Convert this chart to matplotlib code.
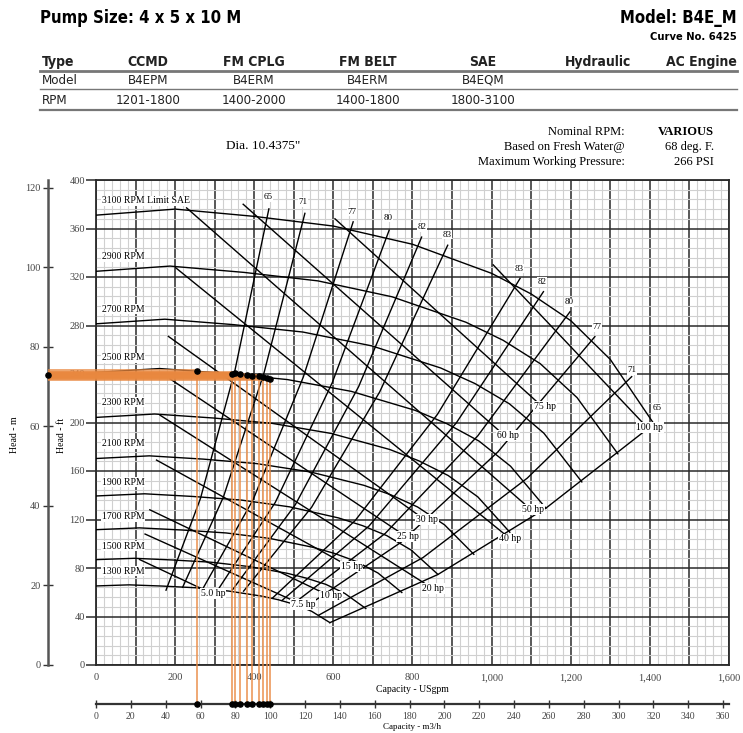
import numpy as np
import matplotlib.pyplot as plt
from matplotlib.lines import Line2D
from matplotlib.ticker import FuncFormatter

W, H = 743, 733
SERIF = ['Liberation Serif', 'DejaVu Serif']
NARROW = ['DejaVu Sans', 'Liberation Sans']

# head-capacity curves, USgpm / ft
q_3100 = [0, 200, 400, 600, 800, 1000, 1100, 1200, 1300, 1410]
h_3100 = [371, 376, 370, 362, 347, 323, 306, 284, 252, 199]
q_2900 = [0, 187, 374, 561, 748, 935, 1029, 1123, 1216, 1319]
h_2900 = [324.7, 329.0, 323.8, 316.8, 303.7, 282.7, 267.8, 248.5, 220.5, 174.2]
q_2700 = [0, 174, 348, 523, 697, 871, 958, 1045, 1132, 1228]
h_2700 = [281.4, 285.2, 280.7, 274.6, 263.2, 245.0, 232.1, 215.4, 191.2, 151.0]
q_2500 = [0, 161, 323, 484, 645, 806, 887, 968, 1048, 1137]
h_2500 = [241.3, 244.5, 240.6, 235.4, 225.7, 210.1, 199.0, 184.7, 163.9, 129.4]
q_2300 = [0, 148, 297, 445, 594, 742, 816, 890, 965, 1046]
h_2300 = [204.2, 207.0, 203.7, 199.3, 191.0, 177.8, 168.4, 156.3, 138.7, 109.5]
q_2100 = [0, 135, 271, 406, 542, 677, 745, 813, 881, 955]
h_2100 = [170.3, 172.5, 169.8, 166.1, 159.2, 148.2, 140.4, 130.3, 115.6, 91.3]
q_1900 = [0, 123, 245, 368, 490, 613, 674, 735, 797, 864]
h_1900 = [139.4, 141.2, 139.0, 136.0, 130.4, 121.3, 114.9, 106.7, 94.7, 74.8]
q_1700 = [0, 110, 219, 329, 439, 548, 603, 658, 713, 773]
h_1700 = [111.6, 113.1, 111.3, 108.9, 104.4, 97.1, 92.0, 85.4, 75.8, 59.8]
q_1500 = [0, 97, 194, 290, 387, 484, 532, 581, 629, 682]
h_1500 = [86.9, 88.0, 86.6, 84.8, 81.2, 75.6, 71.6, 66.5, 59.0, 46.6]
q_1300 = [0, 84, 168, 252, 335, 419, 461, 503, 545, 591]
h_1300 = [65.2, 66.1, 65.1, 63.7, 61.0, 56.8, 53.8, 49.9, 44.3, 35.0]

rpm_labels = ['3100 RPM Limit SAE', '2900 RPM', '2700 RPM', '2500 RPM', '2300 RPM',
              '2100 RPM', '1900 RPM', '1700 RPM', '1500 RPM', '1300 RPM']
rpm_label_h = [382.7, 336.5, 293.6, 253.2, 216.9, 182.3, 150.9, 122.1, 98.1, 77.5]

# efficiency lines (%), left and right branches
eff_labels = ['65', '71', '77', '80', '82', '83', '83', '82', '80', '77', '71', '65']
eff_q = [[177, 264, 351, 437], [219, 322, 425, 528], [271, 397, 524, 650],
         [309, 453, 597, 741], [345, 504, 664, 823], [373, 545, 717, 889],
         [446, 655, 863, 1072], [470, 690, 911, 1131], [498, 731, 965, 1198],
         [526, 771, 1016, 1261], [563, 827, 1090, 1354], [591, 864, 1137, 1410]]
eff_h = [[61.7, 137.3, 242.7, 376.2], [64.1, 138.5, 241.3, 372.5], [63.5, 136.3, 237.5, 365.5],
         [62.4, 134.0, 232.7, 358.6], [62.0, 132.3, 229.7, 352.9], [60.9, 130.1, 225.2, 346.2],
         [55.2, 119.1, 206.7, 318.9], [53.2, 114.6, 199.8, 307.9], [50.3, 108.5, 189.0, 291.3],
         [47.1, 101.2, 175.8, 270.8], [41.1, 88.7, 154.1, 237.8], [34.9, 74.6, 129.3, 198.8]]
eff_label_q = [435, 523, 647, 738, 824, 887, 1069, 1127, 1196, 1266, 1355, 1418]
eff_label_h = [386, 382, 374, 369, 361, 355, 327, 316, 299, 279, 243, 212]

# horsepower lines (start on the upper curves, end at their labels)
hp_labels = ['100 hp', '75 hp', '60 hp', '50 hp', '40 hp', '30 hp',
             '25 hp', '20 hp', '15 hp', '10 hp', '7.5 hp', '5.0 hp']
hp_q0 = [1004, 604, 372, 229, 200, 183, 187, 162, 153, 136, 124, 110]
hp_h0 = [330, 368, 380, 377, 328, 271, 236, 206, 169, 128, 108, 87]
hp_q1 = [1390, 1125, 1030, 1100, 1040, 826, 779, 842, 636, 584, 513, 286]
hp_h1 = [197, 214, 190, 128, 106, 121, 107, 65, 82, 58, 51, 60]
hp_label_q = [1400, 1135, 1041, 1105, 1047, 836, 789, 852, 646, 594, 523, 296]
hp_label_h = [196, 213, 189, 128, 104, 120, 106, 63, 81, 57, 50, 59]

# operating points picked on the chart
op_flow = [255, 343, 351, 364, 381, 395, 412, 421, 431, 441]
op_head = [242.5, 240.4, 240.9, 239.8, 239.0, 238.7, 238.1, 237.5, 236.7, 236.2]

GPM_PER_M3H = 4.402868
FT_PER_M = 3.28084

fig = plt.figure(figsize=(W / 100, H / 100), dpi=100)
fig.patch.set_facecolor('white')


def fx(px):
    return px / W


def fy(py):
    return 1 - py / H


# ---- header ----
fig.text(fx(40), fy(18), 'Pump Size: 4 x 5 x 10 M', family=NARROW, weight='bold',
         stretch='condensed', fontsize=12, va='center', ha='left')
fig.text(fx(737), fy(18), 'Model: B4E_M', family=NARROW, weight='bold',
         stretch='condensed', fontsize=12, va='center', ha='right')
fig.text(fx(737), fy(37), 'Curve No. 6425', family=NARROW, weight='bold',
         stretch='condensed', fontsize=8, va='center', ha='right')

col_x = [42, 148, 254, 368, 483, 598, 737]
col_ha = ['left', 'center', 'center', 'center', 'center', 'center', 'right']
table_rows = [['Type', 'CCMD', 'FM CPLG', 'FM BELT', 'SAE', 'Hydraulic', 'AC Engine'],
              ['Model', 'B4EPM', 'B4ERM', 'B4ERM', 'B4EQM', '', ''],
              ['RPM', '1201-1800', '1400-2000', '1400-1800', '1800-3100', '', '']]
row_y = [62, 80, 100]
for r, (row, yy) in enumerate(zip(table_rows, row_y)):
    for txt, xx, ha in zip(row, col_x, col_ha):
        fig.text(fx(xx), fy(yy), txt, family=NARROW, stretch='condensed',
                 fontsize=10 if r == 0 else 9.5,
                 weight='bold' if r == 0 else 'normal', ha=ha, va='center', color='#222')
for yy, lw in [(71, 2.0), (89, 1.0), (110, 1.6)]:
    fig.add_artist(Line2D([fx(40), fx(737)], [fy(yy), fy(yy)], color='#777', lw=lw))

fig.text(fx(263), fy(146), 'Dia. 10.4375"', family=SERIF, fontsize=9.5, ha='center', va='center')
for yy, left, right, bold in [(132, 'Nominal RPM:', 'VARIOUS', True),
                              (147, 'Based on Fresh Water@', '68 deg. F.', False),
                              (162, 'Maximum Working Pressure:', '266 PSI', False)]:
    fig.text(fx(625), fy(yy), left, family=SERIF, fontsize=9, ha='right', va='center')
    fig.text(fx(714), fy(yy), right, family=SERIF, fontsize=9, ha='right', va='center',
             weight='bold' if bold else 'normal')

# ---- chart ----
ax = fig.add_axes([fx(96), fy(665), 633 / W, 485 / H])
ax.set_xlim(0, 1600)
ax.set_ylim(0, 400)
ax.set_xticks(np.arange(0, 1601, 100))
ax.set_xticks(np.arange(0, 1601, 20), minor=True)
ax.set_yticks(np.arange(0, 401, 40))
ax.set_yticks(np.arange(0, 401, 8), minor=True)
ax.grid(which='minor', color='#d0d0d0', lw=0.8)
ax.grid(which='major', color='#2a2a2a', lw=1.1)
ax.set_axisbelow(True)
ax.xaxis.set_major_formatter(FuncFormatter(lambda v, _: f'{int(v):,}' if v % 200 == 0 else ''))
ax.tick_params(axis='x', which='both', length=0, pad=6, labelsize=7.5, labelcolor='#444')
ax.tick_params(axis='y', which='major', length=7, width=1.1, color='#2a2a2a',
               labelsize=7.5, labelcolor='#444', pad=1)
ax.tick_params(axis='y', which='minor', length=0)
for lab in ax.get_xticklabels() + ax.get_yticklabels():
    lab.set_family(SERIF)
for sp in ax.spines.values():
    sp.set_color('#2a2a2a')
    sp.set_linewidth(1.3)

curves_q = [q_3100, q_2900, q_2700, q_2500, q_2300, q_2100, q_1900, q_1700, q_1500, q_1300]
curves_h = [h_3100, h_2900, h_2700, h_2500, h_2300, h_2100, h_1900, h_1700, h_1500, h_1300]
for q, h in zip(curves_q, curves_h):
    ax.plot(q, h, color='black', lw=1.0, zorder=3)
for q, h in zip(eff_q, eff_h):
    ax.plot(q, h, color='black', lw=1.0, zorder=3)
for q0, h0, q1, h1 in zip(hp_q0, hp_h0, hp_q1, hp_h1):
    ax.plot([q0, q1], [h0, h1], color='black', lw=1.0, zorder=3)

box = dict(facecolor='white', edgecolor='none', pad=0.6)
for lab, hh in zip(rpm_labels, rpm_label_h):
    ax.text(14, hh, lab, family=SERIF, fontsize=7, ha='left', va='center', bbox=box, zorder=4)
for lab, q, hh in zip(eff_labels, eff_label_q, eff_label_h):
    ax.text(q, hh, lab, family=SERIF, fontsize=6.5, ha='center', va='center', bbox=box, zorder=4)
for lab, q, hh in zip(hp_labels, hp_label_q, hp_label_h):
    ax.text(q, hh, lab, family=SERIF, fontsize=7, ha='center', va='center', bbox=box, zorder=4)

# secondary scales
m3h_ax = ax.secondary_xaxis(-39 / 485, functions=(lambda q: q / GPM_PER_M3H,
                                                   lambda m: m * GPM_PER_M3H))
m3h_ax.set_xticks(np.arange(0, 361, 20))
m3h_ax.tick_params(direction='inout', length=6, width=1, color='#333', pad=3,
                   labelsize=7, labelcolor='#444')
m3h_ax.spines['bottom'].set_linewidth(1.6)
m3h_ax.spines['bottom'].set_color('#333')
for lab in m3h_ax.get_xticklabels():
    lab.set_family(SERIF)

m_ax = ax.secondary_yaxis(-48 / 633, functions=(lambda f: f / FT_PER_M,
                                                 lambda m: m * FT_PER_M))
m_ax.set_yticks(np.arange(0, 121, 20))
m_ax.tick_params(direction='inout', length=7, width=1, color='#333', pad=2,
                 labelsize=7.5, labelcolor='#444')
m_ax.spines['left'].set_linewidth(1.8)
m_ax.spines['left'].set_color('#555')
for lab in m_ax.get_yticklabels():
    lab.set_family(SERIF)

fig.text(fx(412), fy(690), 'Capacity - USgpm', family=SERIF, fontsize=7, ha='center', va='center')
fig.text(fx(412), fy(727), 'Capacity - m3/h', family=SERIF, fontsize=6.5, ha='center', va='center')
fig.text(fx(62), fy(435), 'Head - ft', family=SERIF, fontsize=7, rotation=90, ha='center', va='center')
fig.text(fx(15), fy(435), 'Head - m', family=SERIF, fontsize=7, rotation=90, ha='center', va='center')

# operating point overlay
orange = '#e9883f'
x_m_axis = -48 / 633 * 1600
y_m3h_axis = -39 / 485 * 400
for q, hh in zip(op_flow, op_head):
    ax.plot([x_m_axis, q], [hh, hh], color=orange, lw=2.8, alpha=0.75,
            solid_capstyle='butt', clip_on=False, zorder=5)
    ax.plot([q, q], [hh, y_m3h_axis], color=orange, lw=1.2, alpha=0.85,
            clip_on=False, zorder=5)
ax.scatter(op_flow, op_head, s=14, color='black', zorder=6, clip_on=False)
ax.scatter(op_flow, [y_m3h_axis] * len(op_flow), s=14, color='black', zorder=6, clip_on=False)
ax.scatter([x_m_axis], [op_head[0] - 3], s=14, color='black', zorder=6, clip_on=False)

fig.savefig('out.png', dpi=100, facecolor='white')
